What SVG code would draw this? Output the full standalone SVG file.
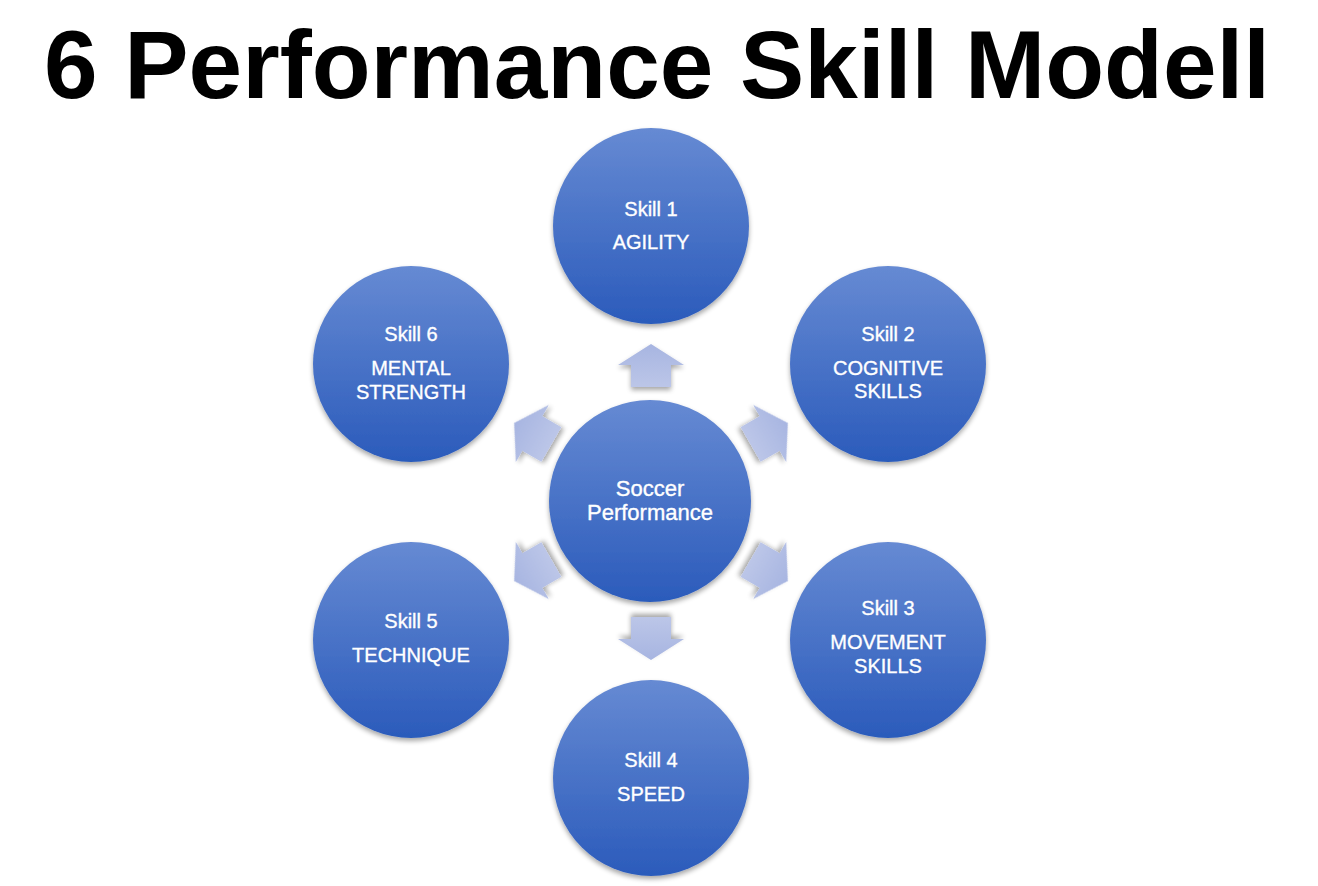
<svg xmlns="http://www.w3.org/2000/svg" width="1318" height="886" viewBox="0 0 1318 886">
<defs>
<linearGradient id="cg" x1="0" y1="0" x2="0" y2="1">
<stop offset="0" stop-color="#668ad3"/>
<stop offset="1" stop-color="#2b5bbb"/>
</linearGradient>
<linearGradient id="ag" x1="0" y1="0" x2="0" y2="1">
<stop offset="0" stop-color="#a7b5e1"/>
<stop offset="1" stop-color="#bcc6e8"/>
</linearGradient>
<filter id="sh" x="-20%" y="-20%" width="140%" height="140%">
<feGaussianBlur in="SourceAlpha" stdDeviation="2.5"/>
<feOffset dy="3" result="b"/>
<feComponentTransfer><feFuncA type="linear" slope="0.35"/></feComponentTransfer>
<feMerge><feMergeNode/><feMergeNode in="SourceGraphic"/></feMerge>
</filter>
<path id="arr" d="M0,-22 L33,-1 L20,-1 L20,21 L-20,21 L-20,-1 L-33,-1 Z"/>
</defs>
<style>
.c{fill:url(#cg);filter:url(#sh)}
.t{font-family:"Liberation Sans",Arial,sans-serif;font-size:20px;fill:#ffffff;stroke:#ffffff;stroke-width:0.35;text-anchor:middle}
.tc{font-size:22px}
.a{fill:url(#ag);filter:url(#sh)}
.title{font-family:"Liberation Sans",Arial,sans-serif;font-weight:bold;font-size:97px;fill:#000000}
</style>
<rect width="1318" height="886" fill="#ffffff"/>
<text class="title" x="44" y="98" textLength="1226" lengthAdjust="spacingAndGlyphs">6 Performance Skill Modell</text>
<g id="connectors">
<use href="#arr" class="a" transform="translate(651,502) rotate(0) translate(0,-136)"/>
<use href="#arr" class="a" transform="translate(651,502) rotate(60) translate(0,-136)"/>
<use href="#arr" class="a" transform="translate(651,502) rotate(120) translate(0,-136)"/>
<use href="#arr" class="a" transform="translate(651,502) rotate(180) translate(0,-136)"/>
<use href="#arr" class="a" transform="translate(651,502) rotate(240) translate(0,-136)"/>
<use href="#arr" class="a" transform="translate(651,502) rotate(300) translate(0,-136)"/>
</g>
<g id="center">
<circle class="c" cx="650" cy="501" r="101"/>
<text class="t tc" x="650" y="496">Soccer</text>
<text class="t tc" x="650" y="520">Performance</text>
</g>
<g id="skill1">
<circle class="c" cx="651" cy="226" r="98"/>
<text class="t" x="651" y="216">Skill 1</text>
<text class="t" x="651" y="249">AGILITY</text>
</g>
<g id="skill2">
<circle class="c" cx="888" cy="364" r="98"/>
<text class="t" x="888" y="341">Skill 2</text>
<text class="t" x="888" y="375">COGNITIVE</text>
<text class="t" x="888" y="398">SKILLS</text>
</g>
<g id="skill3">
<circle class="c" cx="888" cy="640" r="98"/>
<text class="t" x="888" y="615">Skill 3</text>
<text class="t" x="888" y="649">MOVEMENT</text>
<text class="t" x="888" y="673">SKILLS</text>
</g>
<g id="skill4">
<circle class="c" cx="651" cy="778" r="98"/>
<text class="t" x="651" y="767">Skill 4</text>
<text class="t" x="651" y="801">SPEED</text>
</g>
<g id="skill5">
<circle class="c" cx="411" cy="640" r="98"/>
<text class="t" x="411" y="628">Skill 5</text>
<text class="t" x="411" y="662">TECHNIQUE</text>
</g>
<g id="skill6">
<circle class="c" cx="411" cy="364" r="98"/>
<text class="t" x="411" y="341">Skill 6</text>
<text class="t" x="411" y="375">MENTAL</text>
<text class="t" x="411" y="399">STRENGTH</text>
</g>
</svg>
